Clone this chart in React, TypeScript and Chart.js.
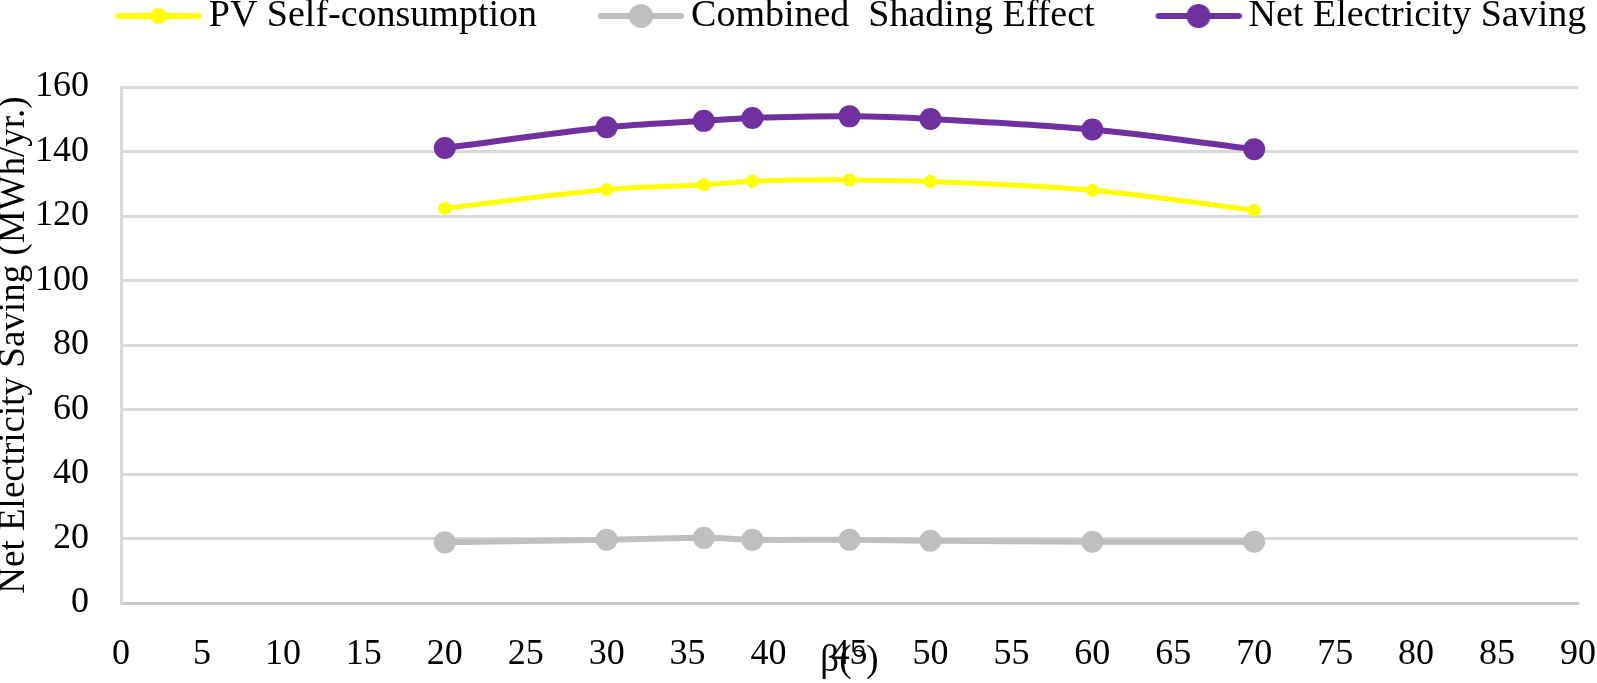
import { useEffect, useRef } from 'react'
import { Chart, registerables } from 'chart.js'

Chart.register(...registerables)

// tilt angle beta (degrees) and yearly values (MWh/yr.)
const betaValues = [20, 30, 36, 39, 45, 50, 60, 70]
const pvSelfConsumption = [122.4, 128.2, 129.7, 130.8, 131.2, 130.7, 128.0, 121.8]
const shadingEffect = [18.8, 19.6, 20.2, 19.6, 19.6, 19.3, 19.0, 19.0]
const netSaving = [141.1, 147.5, 149.5, 150.4, 150.9, 150.1, 146.8, 140.7]

const xTickStep = 5
const yTickStep = 20

const seriesLabels = ['PV Self-consumption', 'Combined  Shading Effect', 'Net Electricity Saving']
const seriesColors = ['#FFFF00', '#BFBFBF', '#7030A0']
const pointSizes = [6.5, 11, 11]
const legendDotSizes = [8, 12, 12]

const FONT = '"Liberation Serif", "Times New Roman", serif'
const LEGEND_FONT = 38
const TICK_FONT = 36

// legend marker: transparent gap on the left, then line with a dot
const MARKER_GAP = 73
const MARKER_LEN = 86

function legendMarker(color: string, r: number) {
  const c = document.createElement('canvas')
  c.width = MARKER_GAP + MARKER_LEN
  c.height = 28
  const g = c.getContext('2d')!
  g.strokeStyle = color
  g.lineWidth = 6
  g.lineCap = 'round'
  g.beginPath()
  g.moveTo(MARKER_GAP + 3, 14)
  g.lineTo(MARKER_GAP + MARKER_LEN - 3, 14)
  g.stroke()
  g.fillStyle = color
  g.beginPath()
  g.arc(MARKER_GAP + MARKER_LEN / 2, 14, r, 0, Math.PI * 2)
  g.fill()
  return c
}

// nudge the legend into the spot it has in the original figure
const legendNudge = {
  id: 'legendNudge',
  afterLayout(chart: Chart) {
    const l: any = chart.legend
    if (!l) return
    l.top -= 42
    l.bottom -= 42
    l.left += 22
    l.right += 22
  },
}

function toPoints(ys: number[]) {
  return betaValues.map((x, i) => ({ x, y: ys[i] }))
}

export default function App() {
  const chartRef = useRef<HTMLCanvasElement | null>(null)
  const chartInstance = useRef<Chart | null>(null)

  useEffect(() => {
    document.body.style.margin = '0'
    if (!chartRef.current) return
    if (chartInstance.current) chartInstance.current.destroy()

    const markers = seriesColors.map((c, i) => legendMarker(c, legendDotSizes[i]))
    const allSeries = [pvSelfConsumption, shadingEffect, netSaving]

    chartInstance.current = new Chart(chartRef.current, {
      type: 'line',
      data: {
        datasets: allSeries.map((s, i) => ({
          label: seriesLabels[i],
          data: toPoints(s),
          borderColor: seriesColors[i],
          backgroundColor: seriesColors[i],
          borderWidth: i === 0 ? 5 : 6,
          pointRadius: pointSizes[i],
          pointHoverRadius: pointSizes[i],
          pointBorderWidth: 0,
          tension: 0.3,
          fill: false,
        })),
      },
      options: {
        animation: false,
        responsive: true,
        maintainAspectRatio: false,
        events: [],
        layout: { padding: { left: 0, right: 0, top: 39, bottom: 0 } },
        plugins: {
          tooltip: { enabled: false },
          legend: {
            position: 'top',
            labels: {
              color: '#000',
              font: { family: FONT, size: LEGEND_FONT },
              usePointStyle: true,
              pointStyleWidth: MARKER_GAP + MARKER_LEN - 24,
              padding: 0,
              generateLabels: (chart) =>
                chart.data.datasets.map((ds, i) => ({
                  text: ds.label as string,
                  pointStyle: markers[i],
                  fillStyle: seriesColors[i],
                  strokeStyle: seriesColors[i],
                  lineWidth: 0,
                  hidden: false,
                  datasetIndex: i,
                  fontColor: '#000',
                })),
            },
          },
        },
        scales: {
          x: {
            type: 'linear',
            min: 0,
            max: 90,
            afterFit: (s: any) => {
              s.height = 80
              s.paddingRight = 19
            },
            ticks: { stepSize: xTickStep, color: '#000', font: { family: FONT, size: TICK_FONT }, padding: 22 },
            grid: { display: false },
            border: { color: '#C8C8C8', width: 3 },
            title: {
              display: true,
              text: 'β(°)',
              color: '#000',
              font: { family: FONT, size: 37 },
              padding: { top: 0, bottom: 0 },
            },
          },
          y: {
            min: 0,
            max: 160,
            afterFit: (s: any) => {
              s.width = 121
            },
            ticks: { stepSize: yTickStep, color: '#000', font: { family: FONT, size: TICK_FONT }, padding: 32 },
            grid: { color: '#D9D9D9', lineWidth: 3, drawTicks: false },
            border: { color: '#D9D9D9', width: 3 },
            title: {
              display: true,
              text: 'Net Electricity Saving (MWh/yr.)',
              color: '#000',
              font: { family: FONT, size: 37 },
              padding: { top: -8, bottom: 0 },
            },
          },
        },
      },
      plugins: [legendNudge],
    })

    return () => {
      if (chartInstance.current) {
        chartInstance.current.destroy()
        chartInstance.current = null
      }
    }
  }, [])

  return (
    <div style={{ width: 1597, height: 683, background: '#fff' }}>
      <canvas ref={chartRef}></canvas>
    </div>
  )
}
